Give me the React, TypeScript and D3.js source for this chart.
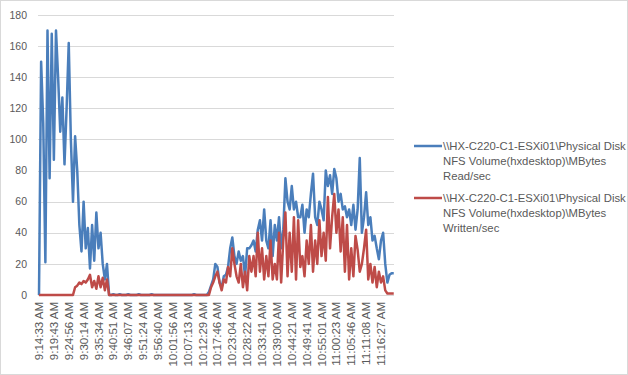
import React from "react";
import * as d3 from "d3";

const tickLabels: string[] = [
  "9:14:33 AM", "9:19:43 AM", "9:24:56 AM", "9:30:14 AM", "9:35:34 AM", "9:40:51 AM",
  "9:46:07 AM", "9:51:24 AM", "9:56:40 AM", "10:01:56 AM", "10:07:13 AM", "10:12:29 AM",
  "10:17:46 AM", "10:23:04 AM", "10:28:22 AM", "10:33:41 AM", "10:39:00 AM", "10:44:21 AM",
  "10:49:41 AM", "10:55:01 AM", "11:00:23 AM", "11:05:46 AM", "11:11:08 AM", "11:16:27 AM",
];
const pointsPerLabel = 7;

const yTicks: number[] = [0, 20, 40, 60, 80, 100, 120, 140, 160, 180];

const seriesNames: string[][] = [
  ["\\\\HX-C220-C1-ESXi01\\Physical Disk", "NFS Volume(hxdesktop)\\MBytes", "Read/sec"],
  ["\\\\HX-C220-C1-ESXi01\\Physical Disk", "NFS Volume(hxdesktop)\\MBytes", "Written/sec"],
];
const seriesColors: string[] = ["#4A7EBB", "#BE4B48"];

const readValues: number[] = [
  0, 150, 110, 21, 170, 75, 168, 87, 170, 140,
  105, 127, 84, 120, 162, 100, 60, 102, 80, 45,
  28, 60, 30, 43, 17, 45, 22, 53, 30, 40,
  20, 10, 20, 0,
  0, 0.5, 0, 0, 0.5, 0, 0, 0, 0.5, 0,
  0, 0, 0, 0.5, 0, 0, 0, 0, 0, 0.5,
  0, 0, 0, 0, 0, 0, 0, 0, 0, 0,
  0, 0, 0, 0, 0, 0, 0, 0, 0, 0.5,
  0, 0, 0, 0, 0, 0,
  2, 6, 10, 20, 18, 8, 5, 12, 13, 18,
  30, 37, 25, 20, 28, 22, 25, 12, 30, 30,
  32, 35, 28, 42, 48, 35, 55, 35, 30, 48,
  25, 45, 35, 50, 30, 42, 75, 60, 55, 70,
  55, 60, 50, 50, 58, 40, 55, 50, 65, 78,
  50, 45, 60, 55, 48, 80, 70, 77, 65, 81,
  75, 60, 65, 55, 57, 50, 55, 45, 58, 42,
  55, 88, 40, 50, 66, 45, 50, 35, 38, 30,
  23, 35, 40, 20, 8, 13, 14, 14,
];

const writtenValues: number[] = [
  0, 0, 0, 0, 0, 0, 0, 0, 0, 0,
  0, 0, 0, 0, 0, 0, 0, 5, 6, 8,
  7, 9, 8, 10, 13, 5, 9, 4, 12, 5,
  11, 3, 10, 0,
  0, 0, 0, 0, 0, 0, 0, 0, 0, 0,
  0, 0, 0, 0, 0, 0, 0, 0, 0, 0,
  0, 0, 0, 0, 0, 0, 0, 0, 0, 0,
  0, 0, 0, 0, 0, 0, 0, 0, 0, 0,
  0, 0, 0, 0, 0, 0,
  0, 5, 8, 12, 15, 8, 3, 10, 8, 18,
  12, 30, 20, 12, 8, 20, 5, 15, 3, 25,
  15, 25, 12, 40, 15, 30, 10, 25, 12, 35,
  10, 20, 10, 40, 8, 35, 53, 12, 40, 15,
  50, 10, 48, 18, 25, 12, 35, 20, 45, 15,
  35, 20, 48, 25, 40, 22, 63, 30, 50, 65,
  40, 55, 28, 50, 15, 45, 10, 30, 12, 38,
  29, 15, 20, 30, 42, 10, 20, 8, 18, 5,
  15, 8, 12, 3, 1, 1, 1, 1,
];

const W = 628;
const H = 375;
const plot = { left: 38, right: 394, top: 15, bottom: 295 };
const font = "'Liberation Sans', Arial, sans-serif";

export default function App() {
  const lastLabelIdx = (tickLabels.length - 1) * pointsPerLabel;
  const x = d3.scaleLinear().domain([0, lastLabelIdx]).range([39, 381]);
  const y = d3.scaleLinear().domain([0, 180]).range([plot.bottom, plot.top]);
  const line = d3
    .line<number>()
    .x((_, i) => x(i))
    .y((d) => y(d));

  return (
    <svg
      width={W}
      height={H}
      style={{ position: "absolute", left: 0, top: 0, background: "#fff" }}
      fontFamily={font}
    >
      <rect x={0.5} y={0.5} width={W - 1} height={H - 1} fill="#fff" stroke="#D9D9D9" />
      {yTicks.map((t) => (
        <g key={t}>
          <line
            x1={plot.left}
            x2={plot.right}
            y1={Math.round(y(t)) + 0.5}
            y2={Math.round(y(t)) + 0.5}
            stroke="#D9D9D9"
            strokeWidth={1}
          />
          <text
            x={27}
            y={y(t)}
            dy="0.35em"
            textAnchor="end"
            fontSize={10.5}
            fill="#595959"
          >
            {t}
          </text>
        </g>
      ))}
      {tickLabels.map((lab, k) => (
        <text
          key={lab}
          transform={`translate(${x(k * pointsPerLabel)},302) rotate(-90)`}
          dy="0.35em"
          textAnchor="end"
          fontSize={11.5}
          fill="#595959"
        >
          {lab}
        </text>
      ))}
      <path
        d={line(readValues) || ""}
        fill="none"
        stroke={seriesColors[0]}
        strokeWidth={2.5}
        strokeLinejoin="round"
      />
      <path
        d={line(writtenValues) || ""}
        fill="none"
        stroke={seriesColors[1]}
        strokeWidth={2.5}
        strokeLinejoin="round"
      />
      {seriesNames.map((lines, s) => {
        const top = s === 0 ? 146 : 198;
        return (
          <g key={s}>
            <line x1={414} x2={442} y1={top} y2={top} stroke={seriesColors[s]} strokeWidth={2.5} />
            {lines.map((t, j) => (
              <text
                key={j}
                x={443}
                y={top + j * 15}
                dy="0.35em"
                fontSize={11.3}
                fill="#595959"
              >
                {t}
              </text>
            ))}
          </g>
        );
      })}
    </svg>
  );
}
